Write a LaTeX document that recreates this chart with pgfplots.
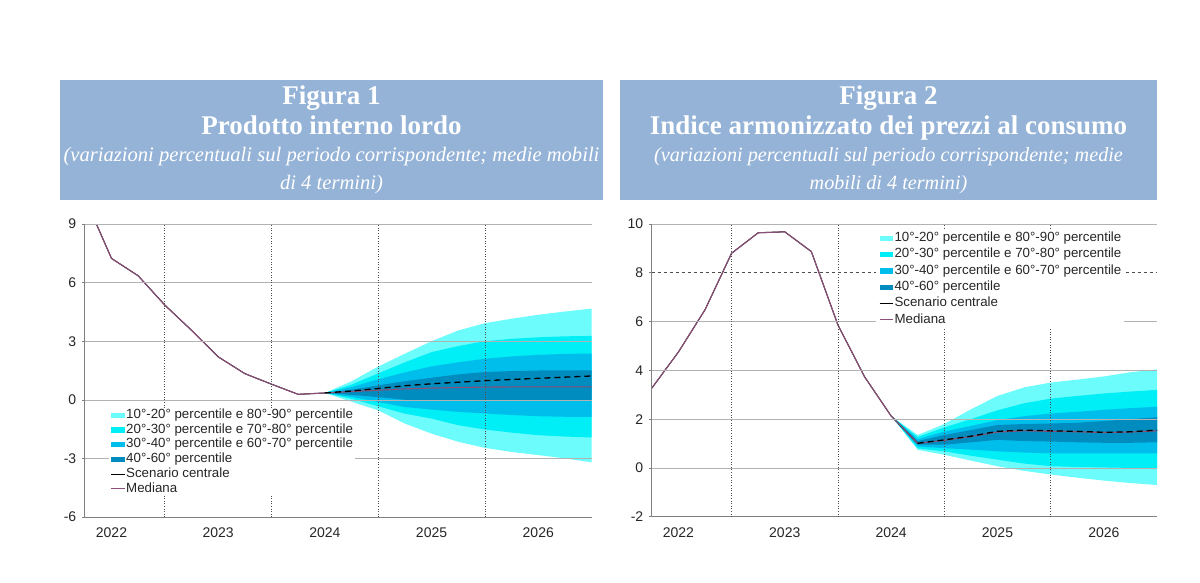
\documentclass[border=0pt]{standalone}
\usepackage{fontspec}
\setmainfont{Liberation Serif}
\newfontfamily\arial{Liberation Sans}
\usepackage{pgfplots}
\pgfplotsset{compat=1.18}
\definecolor{boxblue}{RGB}{149,179,215}
\definecolor{cA}{RGB}{108,252,252}
\definecolor{cB}{RGB}{0,238,246}
\definecolor{cC}{RGB}{0,190,235}
\definecolor{cD}{RGB}{0,140,190}
\definecolor{mauve}{RGB}{140,80,120}
\pgfplotsset{
 fanaxis/.style={
  scale only axis, anchor=south west,
  xmin=1, xmax=20,
  axis lines*=left,
  axis line style={draw=black!50, line width=0.8pt},
  xtick={2,6,10,14,18}, xticklabels={2022,2023,2024,2025,2026},
  xtick style={draw=none},
  ytick style={draw=black!50, line width=0.6pt},
  tick align=outside, major tick length=3pt,
  ymajorgrids,
  major grid style={draw=black!30, line width=0.6pt},
  extra x ticks={4,8,12,16}, extra x tick labels={},
  extra x tick style={grid=major, major grid style={draw=black!70, dotted, line width=0.7pt}, tick style={draw=none}},
  tick label style={font=\arial\fontsize{14}{16}\selectfont, text=black!85},
  xticklabel style={yshift=-4pt},
  yticklabel style={xshift=-2pt},
  axis on top,
  legend cell align=left,
  legend style={draw=none, fill=white, font=\arial\fontsize{13.3}{15}\selectfont, text=black!85,
    nodes={inner sep=0pt, text height=9.5pt, text depth=3pt},
    /tikz/every odd column/.append style={column sep=1pt}},
 },
 band/.style={fill=#1, draw=none, legend image code/.code={\fill[#1] (0pt,-2.6pt) rectangle (13.3pt,2.6pt);}},
 lineleg/.style={legend image code/.code={\draw[##1] (0pt,0pt) -- (13.3pt,0pt);}},
}
\begin{document}
\begin{tikzpicture}
\useasboundingbox (0pt,0pt) rectangle (1200pt,582pt);
% title boxes
\fill[boxblue] (60pt,382pt) rectangle (603pt,502pt);
\fill[boxblue] (620pt,382pt) rectangle (1157pt,502pt);
\node[white, anchor=base, font=\bfseries\fontsize{27}{30}\selectfont] at (331.5pt,477pt) {Figura 1};
\node[white, anchor=base, font=\bfseries\fontsize{27}{30}\selectfont] at (331.5pt,447pt) {Prodotto interno lordo};
\node[white, anchor=base, font=\itshape\fontsize{20.6}{24}\selectfont] at (331.5pt,420pt) {(variazioni percentuali sul periodo corrispondente; medie mobili};
\node[white, anchor=base, font=\itshape\fontsize{20.6}{24}\selectfont] at (331.5pt,392pt) {di 4 termini)};
\node[white, anchor=base, font=\bfseries\fontsize{27}{30}\selectfont] at (888.5pt,477pt) {Figura 2};
\node[white, anchor=base, font=\bfseries\fontsize{27}{30}\selectfont] at (888.5pt,447pt) {Indice armonizzato dei prezzi al consumo};
\node[white, anchor=base, font=\itshape\fontsize{20.2}{24}\selectfont] at (888.5pt,420pt) {(variazioni percentuali sul periodo corrispondente; medie};
\node[white, anchor=base, font=\itshape\fontsize{20.2}{24}\selectfont] at (888.5pt,392pt) {mobili di 4 termini)};

% ---------------- Figure 1 ----------------
\begin{axis}[fanaxis, at={(84.8pt,65pt)}, width=506.8pt, height=293pt,
  ymin=-6, ymax=9, ytick={-6,-3,0,3,6,9}, yticklabels={-6,-3,0,3,6,9},
  legend style={at={(axis description cs:0.047,0.369)}, anchor=north west, inner xsep=2pt, inner ysep=0pt, row sep=2.2pt}]
\addplot[band=cA] coordinates {(10,0.35) (11,0.95) (12,1.70) (13,2.36) (14,3.0) (15,3.55) (16,3.92) (17,4.15) (18,4.35) (19,4.52) (20,4.67)
  (20,-3.2) (19,-3.0) (18,-2.83) (17,-2.67) (16,-2.46) (15,-2.15) (14,-1.73) (13,-1.22) (12,-0.54) (11,-0.1)} -- cycle;
\addlegendentry{10°-20° percentile e 80°-90° percentile}
\addplot[band=cB] coordinates {(10,0.35) (11,0.78) (12,1.35) (13,1.92) (14,2.44) (15,2.75) (16,3.0) (17,3.12) (18,3.2) (19,3.25) (20,3.27)
  (20,-1.93) (19,-1.88) (18,-1.81) (17,-1.68) (16,-1.52) (15,-1.3) (14,-0.96) (13,-0.71) (12,-0.33) (11,0.05)} -- cycle;
\addlegendentry{20°-30° percentile e 70°-80° percentile}
\addplot[band=cC] coordinates {(10,0.35) (11,0.65) (12,1.05) (13,1.40) (14,1.71) (15,1.92) (16,2.1) (17,2.22) (18,2.3) (19,2.35) (20,2.37)
  (20,-0.88) (19,-0.87) (18,-0.84) (17,-0.78) (16,-0.7) (15,-0.62) (14,-0.5) (13,-0.37) (12,-0.11) (11,0.15)} -- cycle;
\addlegendentry{30°-40° percentile e 60°-70° percentile}
\addplot[band=cD] coordinates {(10,0.35) (11,0.52) (12,0.74) (13,0.95) (14,1.13) (15,1.30) (16,1.42) (17,1.47) (18,1.5) (19,1.51) (20,1.51)
  (20,-0.06) (19,-0.06) (18,-0.06) (17,-0.06) (16,-0.06) (15,-0.05) (14,-0.03) (13,0.0) (12,0.14) (11,0.25)} -- cycle;
\addlegendentry{40°-60° percentile}
\addplot[lineleg, black, line width=1pt] coordinates {(1,10.35) (2,7.24) (3,6.35) (4,4.85) (5,3.56) (6,2.2) (7,1.34) (8,0.80) (9,0.28) (10,0.35)};
\addlegendentry{Scenario centrale}
\addplot[lineleg, mauve, line width=1.1pt] coordinates {(1,10.35) (2,7.24) (3,6.35) (4,4.85) (5,3.56) (6,2.2) (7,1.34) (8,0.80) (9,0.28) (10,0.35)
  (11,0.42) (12,0.49) (13,0.56) (14,0.6) (15,0.63) (16,0.65) (17,0.66) (18,0.66) (19,0.66) (20,0.66)};
\addlegendentry{Mediana}
\addplot[forget plot, black, line width=1.3pt, dash pattern=on 6pt off 4pt] coordinates {(10,0.35) (11,0.45) (12,0.58) (13,0.72) (14,0.82) (15,0.9) (16,0.98) (17,1.04) (18,1.1) (19,1.16) (20,1.22)};
\end{axis}

% ---------------- Figure 2 ----------------
\begin{axis}[fanaxis, at={(651.8pt,65.3pt)}, width=505.2pt, height=292.7pt,
  ymin=-2, ymax=10, ytick={-2,0,2,4,6,10}, yticklabels={-2,0,2,4,6,10},
  extra y ticks={8}, extra y tick labels={8},
  extra y tick style={grid=major, major grid style={draw=black!70, dashed, line width=0.6pt}},
  legend style={at={(axis description cs:0.4437,0.983)}, anchor=north west, inner xsep=3pt, inner ysep=3pt, row sep=3.8pt}]
\addplot[band=cA] coordinates {(10,2.13) (11,1.35) (12,1.8) (13,2.4) (14,2.95) (15,3.3) (16,3.5) (17,3.62) (18,3.75) (19,3.92) (20,4.04)
  (20,-0.7) (19,-0.62) (18,-0.52) (17,-0.4) (16,-0.27) (15,-0.12) (14,0.07) (13,0.3) (12,0.54) (11,0.74)} -- cycle;
\addlegendentry{10°-20° percentile e 80°-90° percentile}
\addplot[band=cB] coordinates {(10,2.13) (11,1.27) (12,1.66) (13,2.0) (14,2.36) (15,2.65) (16,2.84) (17,2.95) (18,3.05) (19,3.13) (20,3.2)
  (20,0.0) (19,0.0) (18,0.02) (17,0.04) (16,0.07) (15,0.18) (14,0.34) (13,0.5) (12,0.68) (11,0.8)} -- cycle;
\addlegendentry{20°-30° percentile e 70°-80° percentile}
\addplot[band=cC] coordinates {(10,2.13) (11,1.18) (12,1.49) (13,1.72) (14,1.96) (15,2.12) (16,2.23) (17,2.3) (18,2.38) (19,2.45) (20,2.51)
  (20,0.6) (19,0.6) (18,0.6) (17,0.6) (16,0.6) (15,0.63) (14,0.68) (13,0.75) (12,0.81) (11,0.88)} -- cycle;
\addlegendentry{30°-40° percentile e 60°-70° percentile}
\addplot[band=cD] coordinates {(10,2.13) (11,1.1) (12,1.35) (13,1.55) (14,1.76) (15,1.8) (16,1.82) (17,1.85) (18,1.92) (19,2.0) (20,2.08)
  (20,1.05) (19,1.03) (18,1.03) (17,1.05) (16,1.08) (15,1.1) (14,1.15) (13,1.05) (12,0.95) (11,0.95)} -- cycle;
\addlegendentry{40°-60° percentile}
\addplot[lineleg, black, line width=1pt] coordinates {(1,3.27) (2,4.75) (3,6.48) (4,8.8) (5,9.64) (6,9.68) (7,8.87) (8,5.86) (9,3.74) (10,2.13) (11,1.01)};
\addlegendentry{Scenario centrale}
\addplot[lineleg, mauve, line width=1.1pt] coordinates {(1,3.27) (2,4.75) (3,6.48) (4,8.8) (5,9.64) (6,9.68) (7,8.87) (8,5.86) (9,3.74) (10,2.13) (11,1.01)
  (12,1.13) (13,1.28) (14,1.47) (15,1.52) (16,1.5) (17,1.48) (18,1.45) (19,1.47) (20,1.52)};
\addlegendentry{Mediana}
\addplot[forget plot, black, line width=1.3pt, dash pattern=on 6pt off 4pt] coordinates {(11,1.01) (12,1.15) (13,1.3) (14,1.5) (15,1.55) (16,1.52) (17,1.5) (18,1.46) (19,1.48) (20,1.55)};
\end{axis}
\end{tikzpicture}
\end{document}
